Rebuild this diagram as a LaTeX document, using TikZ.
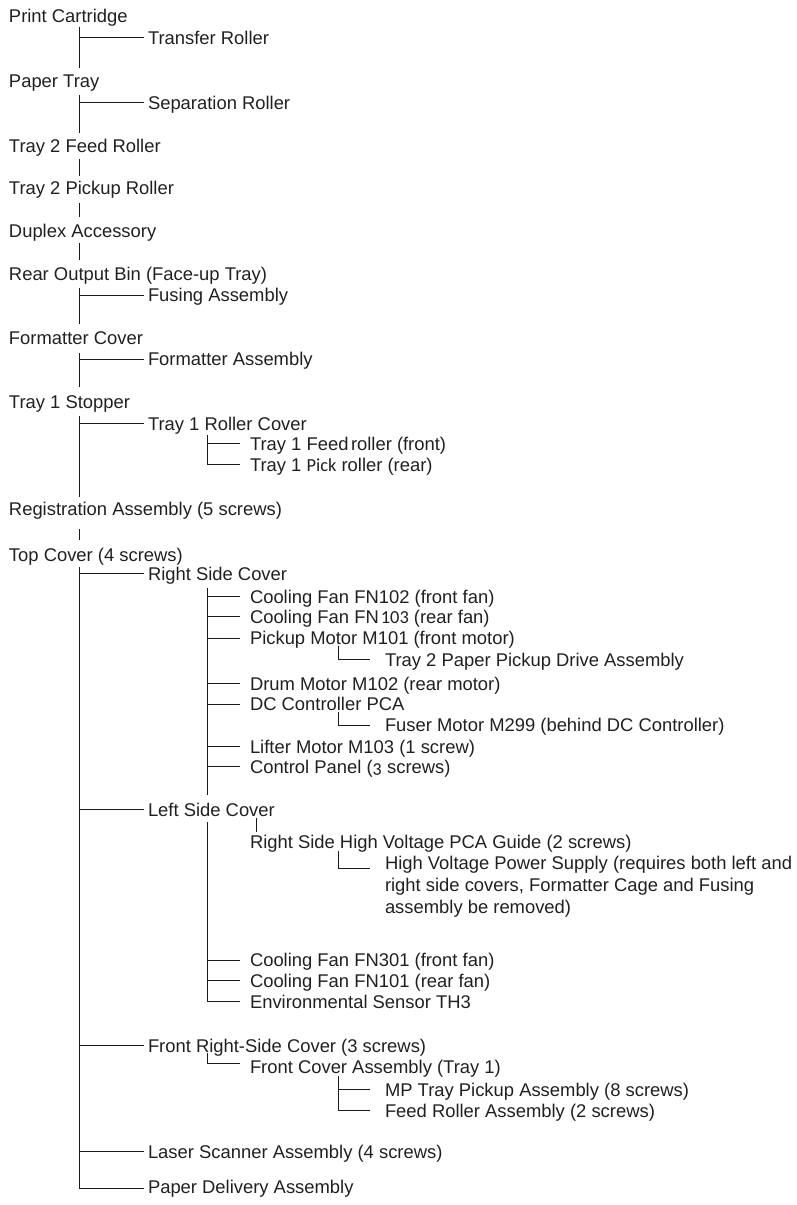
\documentclass[tikz,border=0pt]{standalone}
\usepackage{fontspec}
\setmainfont{Liberation Sans}
\newfontfamily\altfont{Carlito}
\newfontfamily\altfontos[Numbers=OldStyle]{Carlito}
\usetikzlibrary{calc}
\definecolor{txt}{HTML}{231F20}
\definecolor{lnc}{HTML}{1A1A1A}
\newcommand{\mainsz}{\fontsize{18.4}{21.7}\selectfont}
\tikzset{
  lbl/.style={anchor=base west, inner sep=0pt, outer sep=0pt, text height=13.3pt, text depth=0pt, font=\mainsz, text=txt},
  para/.style={anchor=north west, inner sep=0pt, outer sep=0pt, align=left, font=\mainsz, text=txt},
  ln/.style={line width=0.9pt, draw=lnc}
}
\begin{document}
\begin{tikzpicture}[x=1pt,y=-1pt]
\useasboundingbox (0,0) rectangle (796,1205);
% guide columns
\coordinate (t0) at (79,0);
\coordinate (e0) at (143.5,0);
\coordinate (t1) at (207,0);
\coordinate (t1b) at (256,0);
\coordinate (e1) at (240,0);
\coordinate (t2) at (338,0);
\coordinate (e2) at (370,0);

% level 0
\node[lbl] (pc)  at (9,22.7)  {Print Cartridge};
\node[lbl] (pt)  at (9,87.3)  {Paper Tray};
\node[lbl] (t2f) at (9,152)   {Tray 2 Feed Roller};
\node[lbl] (t2p) at (9,194.5) {Tray 2 Pickup Roller};
\node[lbl] (dup) at (9,237)   {Duplex Accessory};
\node[lbl] (rob) at (9,280)   {Rear Output Bin (Face-up Tray)};
\node[lbl] (fc)  at (9,344.5) {Formatter Cover};
\node[lbl] (t1s) at (9,408.5) {Tray 1 Stopper};
\node[lbl] (reg) at (9,515)   {Registration Assembly (5 screws)};
\node[lbl] (tc)  at (9,561.5) {Top Cover (4 screws)};

% level 1
\node[lbl] (tr)   at (148,44.3)  {Transfer Roller};
\node[lbl] (sr)   at (148,109.5) {Separation Roller};
\node[lbl] (fus)  at (148,301.7) {Fusing Assembly};
\node[lbl] (fa)   at (148,365.7) {Formatter Assembly};
\node[lbl] (t1rc) at (148,430)   {Tray 1 Roller Cover};
\node[lbl] (rsc)  at (148,580.5) {Right Side Cover};
\node[lbl] (lsc)  at (148,816.5) {Left Side Cover};
\node[lbl] (frsc) at (148,1052)  {Front Right-Side Cover (3 screws)};
\node[lbl] (lsa)  at (148,1158)  {Laser Scanner Assembly (4 screws)};
\node[lbl] (pda)  at (148,1193)  {Paper Delivery Assembly};

% level 2
\node[lbl] (t1fr)   at (250,450.5)  {Tray 1 Feed\kern2.5pt roller (front)};
\node[lbl] (t1pr)   at (250,471)    {Tray 1 {\altfont Pick} roller (rear)};
\node[lbl] (cf102)  at (250,603.3)  {Cooling Fan FN102 (front fan)};
\node[lbl] (cf103)  at (250,623.5)  {Cooling Fan FN\kern2pt{\altfont 103} (rear fan)};
\node[lbl] (pm)     at (250,644.7)  {Pickup Motor M101 (front motor)};
\node[lbl] (drum)   at (250,690)    {Drum Motor M102 (rear motor)};
\node[lbl] (dc)     at (250,710.7)  {DC Controller PCA};
\node[lbl] (lifter) at (250,753.3)  {Lifter Motor M103 (1 screw)};
\node[lbl] (cp)     at (250,773.5)  {Control Panel ({\altfontos 3} screws)};
\node[lbl] (rshv)   at (250,848)    {Right Side High Voltage PCA Guide (2 screws)};
\node[lbl] (cf301)  at (250,966.7)  {Cooling Fan FN301 (front fan)};
\node[lbl] (cf101)  at (250,987.3)  {Cooling Fan FN101 (rear fan)};
\node[lbl] (env)    at (250,1008.3) {Environmental Sensor TH3};
\node[lbl] (fca)    at (250,1073)   {Front Cover Assembly (Tray 1)};

% level 3
\node[lbl] (t2pd)  at (385,666.5) {Tray 2 Paper Pickup Drive Assembly};
\node[lbl] (fuser) at (385,731.5) {Fuser Motor M299 (behind DC Controller)};
\node[para] (hvps) at (385,856.3) {High Voltage Power Supply (requires both left and\\right side covers, Formatter Cage and Fusing\\assembly be removed)};
\node[lbl] (mp)    at (385,1096.5) {MP Tray Pickup Assembly (8 screws)};
\node[lbl] (fra)   at (385,1117)   {Feed Roller Assembly (2 screws)};

% ---- level 0 trunk
\draw[ln] ($(pc.base -| t0)+(0,4)$) -- ($(pt.base -| t0)+(0,-19)$);
\draw[ln] (t0 |- tr.west) -- (e0 |- tr.west);
\draw[ln] ($(pt.base -| t0)+(0,7.7)$) -- ($(t2f.base -| t0)+(0,-19)$);
\draw[ln] (t0 |- sr.west) -- (e0 |- sr.west);
\draw[ln] ($(t2f.base -| t0)+(0,7)$) -- ($(t2p.base -| t0)+(0,-18.5)$);
\draw[ln] ($(t2p.base -| t0)+(0,8.5)$) -- ($(dup.base -| t0)+(0,-20.3)$);
\draw[ln] ($(dup.base -| t0)+(0,6.3)$) -- ($(rob.base -| t0)+(0,-20)$);
\draw[ln] ($(rob.base -| t0)+(0,8)$) -- ($(fc.base -| t0)+(0,-20.5)$);
\draw[ln] (t0 |- fus.west) -- (e0 |- fus.west);
\draw[ln] ($(fc.base -| t0)+(0,8.5)$) -- ($(t1s.base -| t0)+(0,-21.5)$);
\draw[ln] (t0 |- fa.west) -- (e0 |- fa.west);
\draw[ln] ($(t1s.base -| t0)+(0,7.5)$) -- ($(reg.base -| t0)+(0,-18.3)$);
\draw[ln] (t0 |- t1rc.west) -- (e0 |- t1rc.west);
\draw[ln] ($(reg.base -| t0)+(0,14)$) -- ($(tc.base -| t0)+(0,-22)$);

% Tray 1 Roller Cover children
\draw[ln] ($(t1rc.base -| t1)+(0,5)$) |- (e1 |- t1pr.west);
\draw[ln] (t1 |- t1fr.west) -- (e1 |- t1fr.west);

% Top Cover trunk
\draw[ln] ($(tc.base -| t0)+(0,5.2)$) |- ($(pda.west -| e0)+(0,2)$);
\draw[ln] (t0 |- rsc.west) -- (e0 |- rsc.west);
\draw[ln] (t0 |- lsc.west) -- (e0 |- lsc.west);
\draw[ln] (t0 |- frsc.west) -- (e0 |- frsc.west);
\draw[ln] (t0 |- lsa.west) -- (e0 |- lsa.west);

% Right Side Cover children
\draw[ln] ($(rsc.base -| t1)+(0,7.5)$) -- ($(lsc.base -| t1)+(0,-21.5)$);
\foreach \n in {cf102,cf103,pm,drum,dc,lifter,cp}
  \draw[ln] (t1 |- \n.west) -- (e1 |- \n.west);
\draw[ln] ($(pm.base -| t2)+(0,1)$) |- (e2 |- t2pd.west);
\draw[ln] ($(dc.base -| t2)+(0,1)$) |- ($(e2 |- fuser.west)+(0,0.5)$);

% Left Side Cover children
\draw[ln] ($(lsc.base -| t1)+(0,5)$) |- (e1 |- env.west);
\draw[ln] (t1 |- cf301.west) -- (e1 |- cf301.west);
\draw[ln] (t1 |- cf101.west) -- (e1 |- cf101.west);
\draw[ln] ($(lsc.base -| t1b)+(0,1.5)$) -- ($(rshv.north -| t1b)+(0,-3)$);
\draw[ln] ($(rshv.base -| t2)+(0,3)$) |- ($(hvps.north west -| e2)+(0,12)$);

% Front Right-Side Cover children
\draw[ln] ($(frsc.base -| t1)+(0,1)$) |- ($(e1 |- fca.west)+(0,-3)$);
\draw[ln] ($(fca.base -| t2)+(0,3)$) |- (e2 |- fra.west);
\draw[ln] (t2 |- mp.west) -- (e2 |- mp.west);
\end{tikzpicture}
\end{document}
